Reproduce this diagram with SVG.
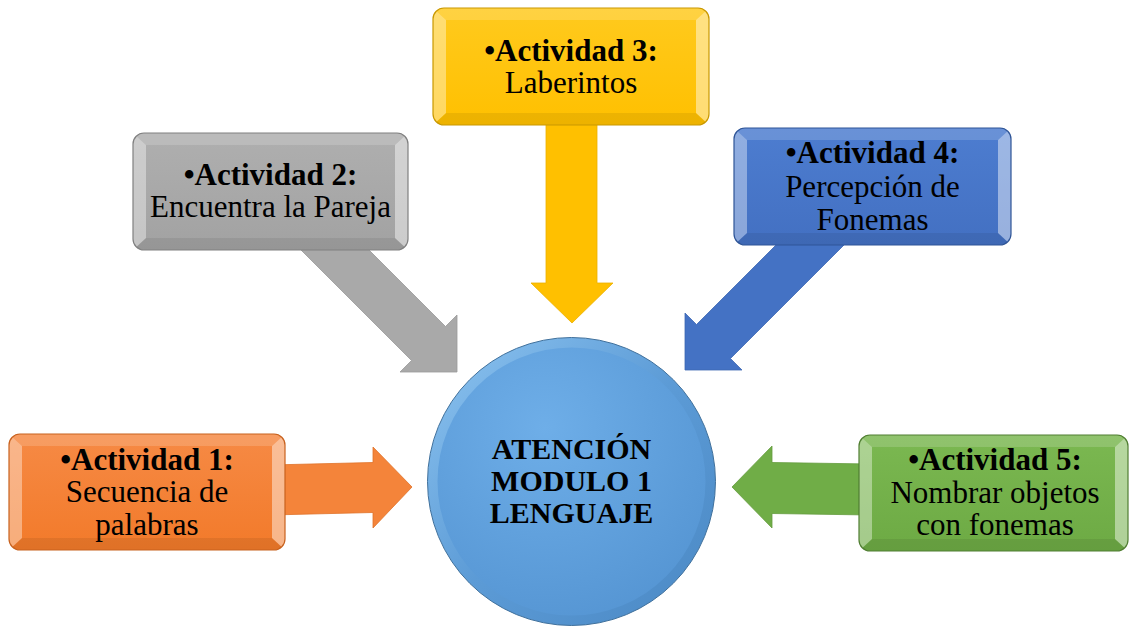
<svg xmlns="http://www.w3.org/2000/svg" width="1129" height="628" viewBox="0 0 1129 628">
<style>
  .t { font-family: "Liberation Serif", "Times New Roman", serif; font-size: 31px; fill: #000; text-anchor: middle; }
  .b { font-weight: bold; }
  .ct { font-family: "Liberation Serif", "Times New Roman", serif; font-size: 30px; font-weight: bold; fill: #000; text-anchor: middle; }
  .bt { fill: #fff; fill-opacity: 0.16; }
  .bb { fill: #000; fill-opacity: 0.07; }
  .bl { fill: #fff; fill-opacity: 0.38; }
  .br { fill: #fff; fill-opacity: 0.45; }
  .frame { fill: none; stroke-width: 1.2; }
</style>
<defs>
  <clipPath id="c1"><rect x="9" y="434" width="276" height="116" rx="11"/></clipPath>
  <clipPath id="c2"><rect x="133" y="133" width="275" height="117" rx="11"/></clipPath>
  <clipPath id="c3"><rect x="433" y="8" width="276" height="117" rx="11"/></clipPath>
  <clipPath id="c4"><rect x="734" y="128" width="277" height="117" rx="11"/></clipPath>
  <clipPath id="c5"><rect x="859" y="435" width="269" height="116" rx="11"/></clipPath>
  <linearGradient id="gO" x1="0" y1="0" x2="0" y2="1"><stop offset="0" stop-color="#F68A45"/><stop offset="1" stop-color="#F27A2A"/></linearGradient>
  <linearGradient id="gG" x1="0" y1="0" x2="0" y2="1"><stop offset="0" stop-color="#AFAFAF"/><stop offset="1" stop-color="#A2A2A2"/></linearGradient>
  <linearGradient id="gY" x1="0" y1="0" x2="0" y2="1"><stop offset="0" stop-color="#FFCA1E"/><stop offset="1" stop-color="#FFC000"/></linearGradient>
  <linearGradient id="gB" x1="0" y1="0" x2="0" y2="1"><stop offset="0" stop-color="#4D7DD0"/><stop offset="1" stop-color="#4370C2"/></linearGradient>
  <linearGradient id="gN" x1="0" y1="0" x2="0" y2="1"><stop offset="0" stop-color="#7BB851"/><stop offset="1" stop-color="#6DAA44"/></linearGradient>
  <radialGradient id="gC" cx="0.4" cy="0.3" r="0.8"><stop offset="0" stop-color="#6EAEE8"/><stop offset="1" stop-color="#5494D2"/></radialGradient>
  <linearGradient id="gR" x1="0" y1="0" x2="1" y2="1"><stop offset="0" stop-color="#8EC5F1"/><stop offset="0.5" stop-color="#5C9BD6"/><stop offset="1" stop-color="#4A88C4"/></linearGradient>
</defs>

<g id="connectors">
  <polygon points="270,465 373,462.5 373,447 412,487 373,528 373,512.5 270,515" fill="#F4843A" stroke="#E0722A" stroke-width="0.8"/>
  <polygon points="327,208 445.5,326.5 457,315 457,372 400,372 411.5,360.5 293,242" fill="#A9A9A9" stroke="#999" stroke-width="0.8"/>
  <polygon points="546,115 597,115 597,283 613,283 572,323 531,283 546,283" fill="#FFC000" stroke="#EBB000" stroke-width="0.8"/>
  <polygon points="847,242 730.5,358.5 742,370 685,370 685,313 696.5,324.5 813,208" fill="#4472C4" stroke="#3D67B2" stroke-width="0.8"/>
  <polygon points="870,464 772,462.5 772,446 732,487 772,528 772,513.5 870,515" fill="#70AD47" stroke="#649C3F" stroke-width="0.8"/>
</g>

<g id="node-1">
  <rect x="9" y="434" width="276" height="116" rx="11" fill="url(#gO)"/>
  <g clip-path="url(#c1)">
    <polygon class="bt" points="9,434 285,434 272,446 22,446"/>
    <polygon class="bb" points="9,550 285,550 272,538 22,538"/>
    <polygon class="bl" points="9,434 22,446 22,538 9,550"/>
    <polygon class="br" points="285,434 272,446 272,538 285,550"/>
  </g>
  <rect class="frame" x="9" y="434" width="276" height="116" rx="11" stroke="#C8621F"/>
  <text class="t b" x="147" y="470">•Actividad 1:</text>
  <text class="t" x="147" y="502">Secuencia de</text>
  <text class="t" x="147" y="535">palabras</text>
</g>

<g id="node-2">
  <rect x="133" y="133" width="275" height="117" rx="11" fill="url(#gG)"/>
  <g clip-path="url(#c2)">
    <polygon class="bt" points="133,133 408,133 395,145 146,145"/>
    <polygon class="bb" points="133,250 408,250 395,238 146,238"/>
    <polygon class="bl" points="133,133 146,145 146,238 133,250"/>
    <polygon class="br" points="408,133 395,145 395,238 408,250"/>
  </g>
  <rect class="frame" x="133" y="133" width="275" height="117" rx="11" stroke="#808080"/>
  <text class="t b" x="270.5" y="185">•Actividad 2:</text>
  <text class="t" x="270.5" y="217">Encuentra la Pareja</text>
</g>

<g id="node-3">
  <rect x="433" y="8" width="276" height="117" rx="11" fill="url(#gY)"/>
  <g clip-path="url(#c3)">
    <polygon class="bt" points="433,8 709,8 696,20 446,20"/>
    <polygon class="bb" points="433,125 709,125 696,113 446,113"/>
    <polygon class="bl" points="433,8 446,20 446,113 433,125"/>
    <polygon class="br" points="709,8 696,20 696,113 709,125"/>
  </g>
  <rect class="frame" x="433" y="8" width="276" height="117" rx="11" stroke="#C99800"/>
  <text class="t b" x="571" y="61">•Actividad 3:</text>
  <text class="t" x="571" y="93">Laberintos</text>
</g>

<g id="node-4">
  <rect x="734" y="128" width="277" height="117" rx="11" fill="url(#gB)"/>
  <g clip-path="url(#c4)">
    <polygon class="bt" points="734,128 1011,128 998,140 747,140"/>
    <polygon class="bb" points="734,245 1011,245 998,233 747,233"/>
    <polygon class="bl" points="734,128 747,140 747,233 734,245"/>
    <polygon class="br" points="1011,128 998,140 998,233 1011,245"/>
  </g>
  <rect class="frame" x="734" y="128" width="277" height="117" rx="11" stroke="#2F5597"/>
  <text class="t b" x="872.5" y="163">•Actividad 4:</text>
  <text class="t" x="872.5" y="197">Percepción de</text>
  <text class="t" x="872.5" y="230">Fonemas</text>
</g>

<g id="node-5">
  <rect x="859" y="435" width="269" height="116" rx="11" fill="url(#gN)"/>
  <g clip-path="url(#c5)">
    <polygon class="bt" points="859,435 1128,435 1115,447 872,447"/>
    <polygon class="bb" points="859,551 1128,551 1115,539 872,539"/>
    <polygon class="bl" points="859,435 872,447 872,539 859,551"/>
    <polygon class="br" points="1128,435 1115,447 1115,539 1128,551"/>
  </g>
  <rect class="frame" x="859" y="435" width="269" height="116" rx="11" stroke="#507E32"/>
  <text class="t b" x="995" y="470">•Actividad 5:</text>
  <text class="t" x="995" y="503">Nombrar objetos</text>
  <text class="t" x="995" y="535">con fonemas</text>
</g>

<g id="node-center">
  <circle cx="571.5" cy="481.5" r="144" fill="url(#gR)" stroke="#41719C" stroke-width="1"/>
  <circle cx="571.5" cy="481.5" r="134" fill="url(#gC)"/>
  <text class="ct" x="571.5" y="459">ATENCIÓN</text>
  <text class="ct" x="571.5" y="491">MODULO 1</text>
  <text class="ct" x="571.5" y="523">LENGUAJE</text>
</g>
</svg>
